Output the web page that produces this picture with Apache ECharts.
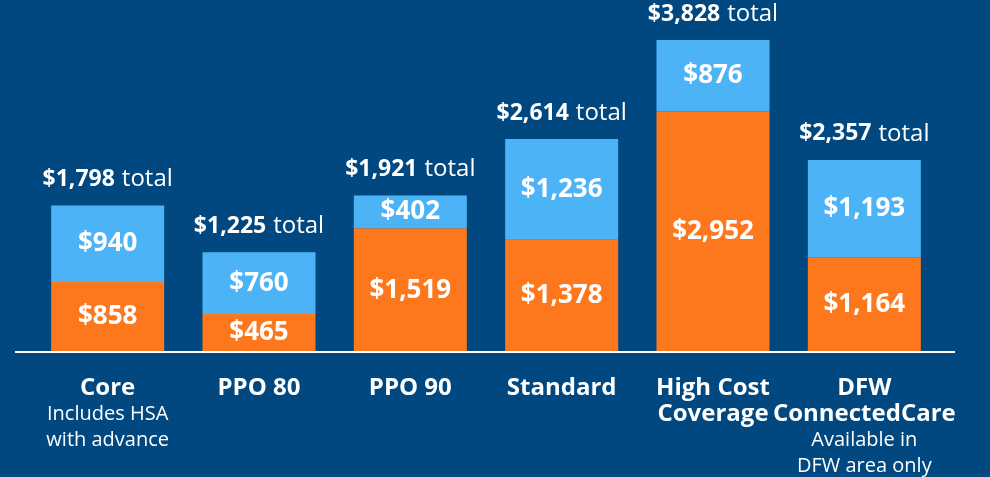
<!DOCTYPE html>
<html>
<head>
<meta charset="utf-8">
<style>
  html, body { margin: 0; padding: 0; background: #00487f; }
  #chart { width: 990px; height: 477px; }
</style>
<script src="https://cdn.jsdelivr.net/npm/echarts@6/dist/echarts.min.js"></script>
</head>
<body>
<div id="chart"></div>
<script>
// plan data
const plans = ['Core', 'PPO 80', 'PPO 90', 'Standard', 'High Cost\nCoverage', 'DFW\nConnectedCare'];
const planNotes = ['Includes HSA\nwith advance', '', '', '', '', 'Available in\nDFW area only'];
const lowerPart = [858, 465, 1519, 1378, 2952, 1164];   // orange
const upperPart = [940, 760, 402, 1236, 876, 1193];     // light blue
const totals = [1798, 1225, 1921, 2614, 3828, 2357];

const FONT = '"Open Sans", "Noto Sans", sans-serif';

function money(v) {
    return '$' + v.toLocaleString('en-US');
}

function initPlanChart() {
    const chart = echarts.init(document.getElementById('chart'));

    const option = {
        backgroundColor: '#00487f',
        animation: false,
        grid: {
            left: 32,
            right: 50,
            top: 26,
            bottom: 125
        },
        graphic: [{
            type: 'line',
            shape: { x1: 15, y1: 352, x2: 955, y2: 352 },
            style: { stroke: '#ffffff', lineWidth: 2 },
            z: 10
        }],
        xAxis: {
            type: 'category',
            data: plans,
            axisLine: { show: false },
            axisTick: { show: false },
            axisLabel: {
                interval: 0,
                margin: 23,
                formatter: function (value, idx) {
                    let lines = value.split('\n').map(s => '{b|' + s + '}');
                    if (planNotes[idx]) {
                        lines = lines.concat(planNotes[idx].split('\n').map(s => '{s|' + s + '}'));
                    }
                    return lines.join('\n');
                },
                rich: {
                    b: { color: '#fff', fontFamily: FONT, fontWeight: 'bold', fontSize: 24, lineHeight: 26 },
                    s: { color: '#fff', fontFamily: FONT, fontSize: 20, lineHeight: 26 }
                }
            }
        },
        yAxis: {
            type: 'value',
            min: 0,
            max: 4000,
            show: false,
            splitLine: { show: false }
        },
        series: [{
            name: 'Lower',
            type: 'bar',
            stack: 'cost',
            barWidth: 113,
            data: lowerPart,
            itemStyle: { color: '#fd781d' },
            label: {
                show: true,
                position: 'inside',
                formatter: p => money(p.value),
                color: '#fff',
                fontFamily: FONT,
                fontWeight: 'bold',
                fontSize: 26
            }
        }, {
            name: 'Upper',
            type: 'bar',
            stack: 'cost',
            data: upperPart,
            itemStyle: { color: '#4db3f7' },
            label: {
                show: true,
                position: 'inside',
                formatter: p => money(p.value),
                color: '#fff',
                fontFamily: FONT,
                fontWeight: 'bold',
                fontSize: 26
            }
        }, {
            name: 'Total',
            type: 'bar',
            stack: 'cost',
            data: totals.map(() => 0),
            itemStyle: { color: 'transparent' },
            label: {
                show: true,
                position: 'top',
                distance: 14,
                formatter: p => '{b|' + money(totals[p.dataIndex]) + '}{n|total}',
                rich: {
                    b: { color: '#fff', fontFamily: FONT, fontWeight: 'bold', fontSize: 23, padding: [0, 7, 0, 0] },
                    n: { color: '#fff', fontFamily: FONT, fontSize: 24 }
                }
            }
        }]
    };

    chart.setOption(option);
}

window.onload = function () {
    initPlanChart();
};
</script>
</body>
</html>
